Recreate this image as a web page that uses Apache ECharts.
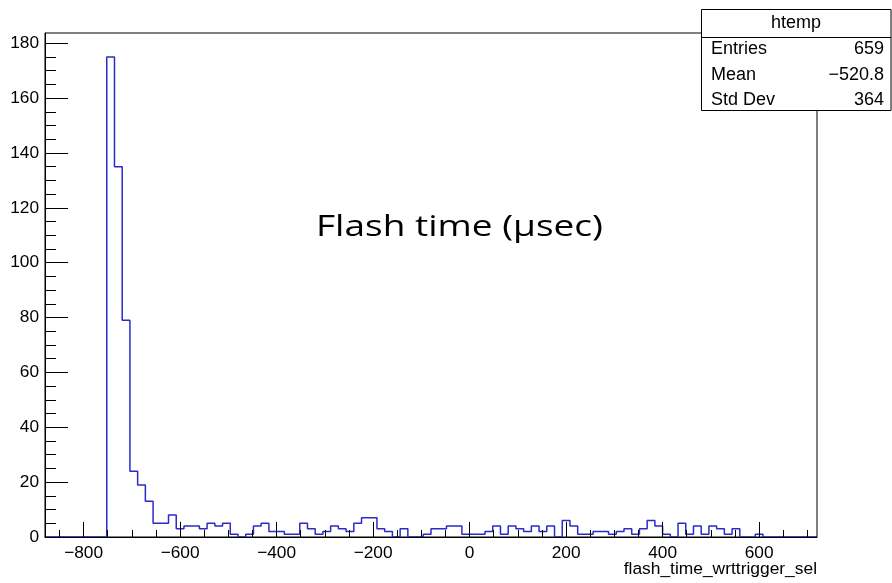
<!DOCTYPE html>
<html>
<head>
<meta charset="utf-8">
<script src="https://cdn.jsdelivr.net/npm/echarts@6/dist/echarts.min.js"></script>
<style>
  html, body { margin: 0; padding: 0; background: #ffffff; }
  #chart { width: 892px; height: 583px; }
</style>
</head>
<body>
<div id="chart"></div>
<script>
// Histogram definition: 100 bins of width 16 spanning [-880, 720)
const binLow = -880;
const binWidth = 16;
const binCounts = [
  0, 0, 0, 0, 0, 0, 0, 0,
  175, 135, 79, 24, 19, 13, 5, 5,
  8, 3, 4, 4, 3, 5, 4, 5,
  1, 0, 1, 4, 5, 2, 2, 1,
  1, 5, 3, 1, 2, 4, 3, 2,
  5, 7, 7, 3, 2, 0, 3, 0,
  0, 1, 3, 3, 4, 4, 1, 1,
  1, 2, 4, 1, 4, 3, 2, 4,
  2, 4, 0, 6, 4, 1, 1, 2,
  2, 1, 2, 3, 1, 3, 6, 4,
  1, 0, 5, 1, 4, 1, 4, 3,
  1, 3, 0, 0, 1, 0, 0, 0,
  0, 0, 0, 0
];

// Axis ranges and tick positions
const xMin = -880, xMax = 720;
const yMin = 0, yMax = 183.75;
const xMajorTicks = [-800, -600, -400, -200, 0, 200, 400, 600];
const xMinorTicks = [-850, -800, -750, -700, -650, -600, -550, -500, -450, -400, -350, -300,
  -250, -200, -150, -100, -50, 0, 50, 100, 150, 200, 250, 300, 350, 400, 450, 500, 550, 600, 650, 700];
const yMajorTicks = [0, 20, 40, 60, 80, 100, 120, 140, 160, 180];
const yMinorTicks = [0, 5, 10, 15, 20, 25, 30, 35, 40, 45, 50, 55, 60, 65, 70, 75, 80, 85, 90, 95,
  100, 105, 110, 115, 120, 125, 130, 135, 140, 145, 150, 155, 160, 165, 170, 175, 180];

// Text
const xTitle = 'flash_time_wrttrigger_sel';
const annotation = 'Flash time (\u00b5sec)';
const statsTitle = 'htemp';
const statsLabels = ['Entries', 'Mean', 'Std Dev'];
const statsValues = ['659', '\u2212520.8', '364'];

const FONT = '"Liberation Sans", Arial, Helvetica, sans-serif';
const minusFmt = v => String(v).replace('-', '\u2212');

// Annotation is stretched to span its text box width
const annFont = '29.5px "Open Sans", sans-serif';
const annBoxWidth = 287;
const measureCtx = document.createElement('canvas').getContext('2d');
measureCtx.font = annFont;
const annScaleX = annBoxWidth / measureCtx.measureText(annotation).width;

// Outline of the histogram as a stepped polyline through the bin edges
const outline = binCounts.map((c, k) => [binLow + k * binWidth, c]);
outline.push([binLow + binCounts.length * binWidth, 0]);

const chart = echarts.init(document.getElementById('chart'), null, { renderer: 'canvas' });

const tickStyle = { color: '#000', width: 1 };

const option = {
  animation: false,
  backgroundColor: '#ffffff',
  grid: {
    left: 45, right: 75, top: 33, bottom: 46,
    show: true, borderColor: '#000', borderWidth: 1, backgroundColor: 'transparent'
  },
  xAxis: [
    {
      type: 'value', min: xMin, max: xMax, position: 'bottom', z: 5,
      axisLine: { show: true, onZero: false, lineStyle: { color: '#000', width: 1 } },
      axisTick: { show: true, inside: true, length: 15, customValues: xMajorTicks, lineStyle: tickStyle },
      axisLabel: {
        show: true, customValues: xMajorTicks, margin: 8,
        color: '#000', fontSize: 17.3, fontFamily: FONT, formatter: minusFmt
      },
      splitLine: { show: false }
    },
    {
      type: 'value', min: xMin, max: xMax, position: 'bottom', offset: 0, z: 5,
      axisLine: { show: false, onZero: false },
      axisTick: { show: true, inside: true, length: 7, customValues: xMinorTicks, lineStyle: tickStyle },
      axisLabel: { show: false },
      splitLine: { show: false }
    }
  ],
  yAxis: [
    {
      type: 'value', min: yMin, max: yMax, position: 'left', z: 5,
      axisLine: { show: true, onZero: false, lineStyle: { color: '#000', width: 1 } },
      axisTick: { show: true, inside: true, length: 23, customValues: yMajorTicks, lineStyle: tickStyle },
      axisLabel: {
        show: true, customValues: yMajorTicks, margin: 6,
        color: '#000', fontSize: 17.3, fontFamily: FONT
      },
      splitLine: { show: false }
    },
    {
      type: 'value', min: yMin, max: yMax, position: 'left', offset: 0, z: 5,
      axisLine: { show: false, onZero: false },
      axisTick: { show: true, inside: true, length: 11, customValues: yMinorTicks, lineStyle: tickStyle },
      axisLabel: { show: false },
      splitLine: { show: false }
    }
  ],
  series: [
    {
      type: 'line',
      xAxisIndex: 0, yAxisIndex: 0,
      step: 'end',
      data: outline,
      symbol: 'none',
      z: 2,
      lineStyle: { color: '#2b2bc8', width: 1.5 },
      clip: true
    }
  ],
  graphic: [
    // axis title
    {
      type: 'text', x: 817, y: 569, z: 20,
      style: { text: xTitle, fill: '#000', font: '17.4px ' + FONT, textAlign: 'right', textVerticalAlign: 'middle' }
    },
    // annotation in the middle of the frame
    {
      type: 'text', x: 316, y: 228, scaleX: annScaleX, scaleY: 1, z: 20,
      style: { text: annotation, fill: '#000', font: annFont, textAlign: 'left', textVerticalAlign: 'middle' }
    },
    // statistics box
    {
      type: 'group', z: 30,
      children: [
        { type: 'rect', shape: { x: 701.5, y: 9.5, width: 189.5, height: 101 },
          style: { fill: '#fff', stroke: '#000', lineWidth: 1 } },
        { type: 'line', shape: { x1: 701.5, y1: 37.5, x2: 891, y2: 37.5 },
          style: { stroke: '#000', lineWidth: 1 } },
        { type: 'text', x: 796, y: 23.5,
          style: { text: statsTitle, fill: '#000', font: '18px ' + FONT, textAlign: 'center', textVerticalAlign: 'middle' } },
        ...statsLabels.map((t, i) => ({
          type: 'text', x: 711, y: [49.5, 75.3, 99.8][i],
          style: { text: t, fill: '#000', font: '18px ' + FONT, textAlign: 'left', textVerticalAlign: 'middle' }
        })),
        ...statsValues.map((t, i) => ({
          type: 'text', x: 884, y: [49.5, 75.3, 99.8][i],
          style: { text: t, fill: '#000', font: '18px ' + FONT, textAlign: 'right', textVerticalAlign: 'middle' }
        }))
      ]
    }
  ]
};

chart.setOption(option);
</script>
</body>
</html>
